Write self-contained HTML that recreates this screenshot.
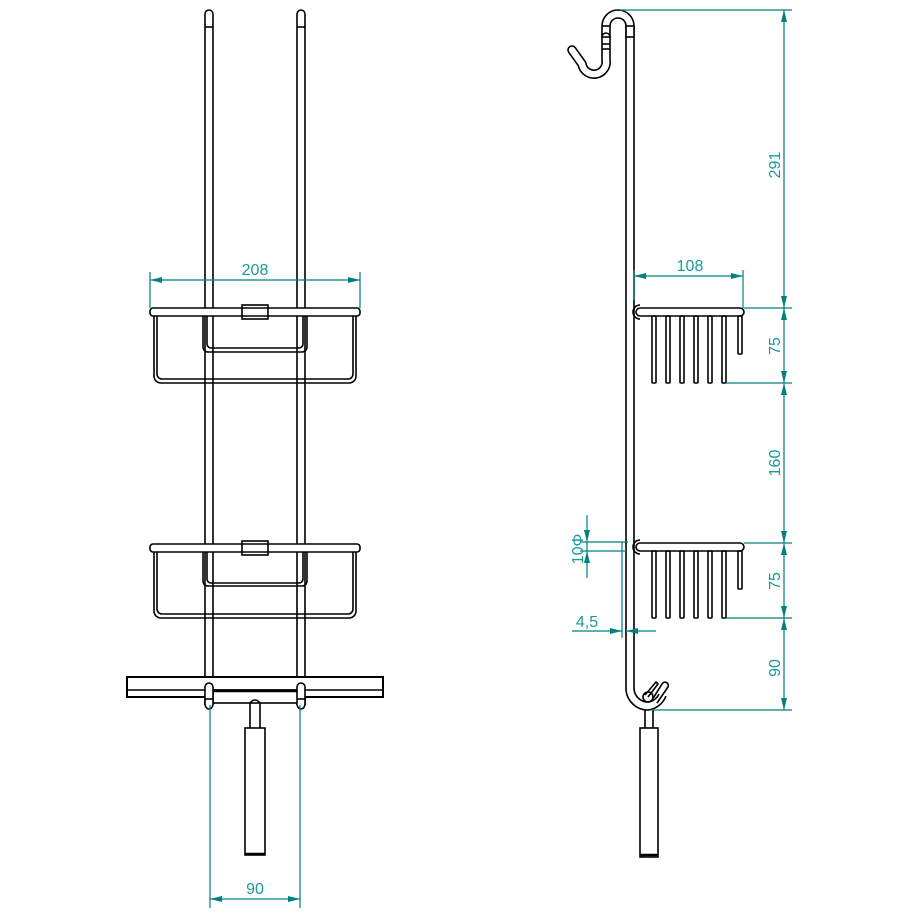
<!DOCTYPE html>
<html><head><meta charset="utf-8"><style>html,body{margin:0;padding:0;background:#fff}svg{display:block}</style></head>
<body>
<svg width="917" height="917" viewBox="0 0 917 917" xmlns="http://www.w3.org/2000/svg" font-family="Liberation Sans, sans-serif">
<defs>
<marker id="a" viewBox="0 0 12 6" refX="12" refY="3" markerWidth="12" markerHeight="6" orient="auto-start-reverse" markerUnits="userSpaceOnUse"><path d="M0,0 L12,3 L0,6 Z" fill="#008080"/></marker>
</defs>
<g fill="none" stroke="#000" stroke-width="1.6">
<!-- LEFT VIEW rails -->
<path d="M205,705 V14 a4,4 0 0 1 8,0 V705"/>
<path d="M297,705 V14 a4,4 0 0 1 8,0 V705"/>
<line x1="205" y1="27" x2="213" y2="27"/><line x1="297" y1="27" x2="305" y2="27"/>
<!-- basket 1 -->
<rect x="150" y="308" width="210" height="8" rx="3" fill="#fff"/>
<path d="M154,316 V376 a7,7 0 0 0 7,7 H349 a7,7 0 0 0 7,-7 V316"/>
<path d="M157,316 V374 a5,5 0 0 0 5,5 H348 a5,5 0 0 0 5,-5 V316"/>
<path d="M203,316 V347 a5,5 0 0 0 5,5 H302 a5,5 0 0 0 5,-5 V316"/>
<path d="M207,316 V344 a4,4 0 0 0 4,4 H299 a4,4 0 0 0 4,-4 V316"/>
<rect x="242" y="305" width="26" height="14" fill="#fff"/>
<line x1="242" y1="308" x2="268" y2="308"/><line x1="242" y1="316" x2="268" y2="316"/>
<!-- basket 2 -->
<rect x="150" y="544" width="210" height="8" rx="3" fill="#fff"/>
<path d="M154,552 V611 a7,7 0 0 0 7,7 H349 a7,7 0 0 0 7,-7 V552"/>
<path d="M157,552 V609 a5,5 0 0 0 5,5 H348 a5,5 0 0 0 5,-5 V552"/>
<path d="M203,552 V581 a5,5 0 0 0 5,5 H302 a5,5 0 0 0 5,-5 V552"/>
<path d="M207,552 V579 a4,4 0 0 0 4,4 H299 a4,4 0 0 0 4,-4 V552"/>
<rect x="242" y="541" width="26" height="14" fill="#fff"/>
<line x1="242" y1="544" x2="268" y2="544"/><line x1="242" y1="552" x2="268" y2="552"/>
<!-- squeegee -->
<rect x="127" y="677" width="256" height="20" fill="#fff" stroke-width="2"/>
<line x1="127" y1="690" x2="383" y2="690"/>
<rect x="213" y="690" width="85" height="13" fill="#fff"/>
<line x1="213" y1="691" x2="298" y2="691" stroke-width="2.5"/>
<path d="M205,687 a4,4 0 0 1 8,0 V704 a4,5 0 0 1 -8,0 Z" fill="#fff"/>
<path d="M297,687 a4,4 0 0 1 8,0 V704 a4,5 0 0 1 -8,0 Z" fill="#fff"/>
<line x1="205" y1="699" x2="213" y2="699"/><line x1="297" y1="699" x2="305" y2="699"/>
<path d="M250,728 V705 a5,5 0 0 1 10,0 V728"/>
<rect x="245" y="728" width="20" height="127" fill="#fff"/>
<line x1="245" y1="854" x2="265" y2="854" stroke-width="2.5"/>
<!-- RIGHT VIEW pole -->
<path d="M626,26 V690 a22,22 0 0 0 22,20 a22,22 0 0 0 18,-14"/>
<path d="M634,26 V688 a14,14 0 0 0 14,14 a14,14 0 0 0 11,-8"/>
<!-- top hook -->
<path d="M602,26 a16,16 0 0 1 32,0"/>
<path d="M610,26 a8,8 0 0 1 16,0"/>
<rect x="602" y="26" width="8" height="11" fill="#fff"/><rect x="626" y="26" width="8" height="11" fill="#fff"/>
<path d="M606,37 V60 A12,12 0 0 1 582,64 L572,50" stroke-width="9.6" stroke-linecap="round"/>
<path d="M606,37 V60 A12,12 0 0 1 582,64 L572,50" stroke="#fff" stroke-width="6.4" stroke-linecap="round"/>
<line x1="602" y1="37" x2="610" y2="37"/>
<line x1="602" y1="44" x2="610" y2="44"/><line x1="602" y1="49" x2="610" y2="49"/>
<!-- bottom hook details -->
<circle cx="648" cy="697" r="5"/>
<path d="M645,695 L656,682 L658,684 L648,697"/>
<path d="M652,700 L662,684 a3,3 0 0 1 6,3 L657,703"/>
<path d="M645,728 V710 M653,728 V710"/>
<rect x="640" y="728" width="18" height="129" fill="#fff"/>
<line x1="640" y1="855" x2="658" y2="855" stroke-width="2.5"/>
<!-- basket side 1 -->
<rect x="636" y="308" width="108" height="8" rx="4" fill="#fff"/>
<path d="M640,305 a6,6 0 0 0 0,14" />
<g>
<rect x="652" y="316" width="4" height="67" rx="1"/><rect x="666" y="316" width="4" height="67" rx="1"/>
<rect x="680" y="316" width="4" height="67" rx="1"/><rect x="694" y="316" width="4" height="67" rx="1"/>
<rect x="708" y="316" width="4" height="67" rx="1"/><rect x="722" y="316" width="4" height="67" rx="1"/>
<rect x="738" y="316" width="4" height="38" rx="1"/>
</g>
<!-- basket side 2 -->
<rect x="636" y="543" width="108" height="8" rx="4" fill="#fff"/>
<path d="M640,540 a6,6 0 0 0 0,14" />
<g>
<rect x="652" y="551" width="4" height="67" rx="1"/><rect x="666" y="551" width="4" height="67" rx="1"/>
<rect x="680" y="551" width="4" height="67" rx="1"/><rect x="694" y="551" width="4" height="67" rx="1"/>
<rect x="708" y="551" width="4" height="67" rx="1"/><rect x="722" y="551" width="4" height="67" rx="1"/>
<rect x="738" y="551" width="4" height="38" rx="1"/>
</g>
</g>
<!-- DIMENSIONS -->
<g stroke="#008080" stroke-width="1.2" fill="none">
<line x1="150" y1="272" x2="150" y2="308"/><line x1="360" y1="272" x2="360" y2="308"/>
<line x1="150" y1="280" x2="360" y2="280" marker-start="url(#a)" marker-end="url(#a)"/>
<line x1="210" y1="705" x2="210" y2="908"/><line x1="300" y1="705" x2="300" y2="908"/>
<line x1="210" y1="899" x2="300" y2="899" marker-start="url(#a)" marker-end="url(#a)"/>
<line x1="620" y1="10" x2="792" y2="10"/>
<line x1="744" y1="308" x2="792" y2="308"/>
<line x1="726" y1="383" x2="792" y2="383"/>
<line x1="744" y1="543" x2="792" y2="543"/>
<line x1="726" y1="618" x2="792" y2="618"/>
<line x1="650" y1="710" x2="792" y2="710"/>
<line x1="784" y1="10" x2="784" y2="308" marker-start="url(#a)" marker-end="url(#a)"/>
<line x1="784" y1="308" x2="784" y2="383" marker-start="url(#a)" marker-end="url(#a)"/>
<line x1="784" y1="383" x2="784" y2="543" marker-start="url(#a)" marker-end="url(#a)"/>
<line x1="784" y1="543" x2="784" y2="618" marker-start="url(#a)" marker-end="url(#a)"/>
<line x1="784" y1="618" x2="784" y2="710" marker-start="url(#a)" marker-end="url(#a)"/>
<line x1="634" y1="270" x2="634" y2="300"/><line x1="743" y1="270" x2="743" y2="308"/>
<line x1="634" y1="276" x2="743" y2="276" marker-start="url(#a)" marker-end="url(#a)"/>
<line x1="580" y1="542" x2="628" y2="542"/><line x1="580" y1="551" x2="626" y2="551"/>
<line x1="587" y1="515" x2="587" y2="542" marker-end="url(#a)"/>
<line x1="587" y1="578" x2="587" y2="551" marker-end="url(#a)"/>
<line x1="587" y1="542" x2="587" y2="551"/>
<line x1="622" y1="542" x2="622" y2="638"/>
<line x1="572" y1="631" x2="622" y2="631" marker-end="url(#a)"/>
<line x1="656" y1="631" x2="626" y2="631" marker-end="url(#a)"/>
</g>
<g fill="#1a9a9a" font-size="16" text-anchor="middle">
<text x="255" y="275">208</text>
<text x="255" y="894">90</text>
<text x="690" y="271">108</text>
<text x="587" y="627">4,5</text>
<text transform="translate(780,165) rotate(-90)">291</text>
<text transform="translate(780,346) rotate(-90)">75</text>
<text transform="translate(780,463) rotate(-90)">160</text>
<text transform="translate(780,581) rotate(-90)">75</text>
<text transform="translate(780,668) rotate(-90)">90</text>
<text transform="translate(583,549) rotate(-90)">10Φ</text>
</g>
</svg>
</body></html>
